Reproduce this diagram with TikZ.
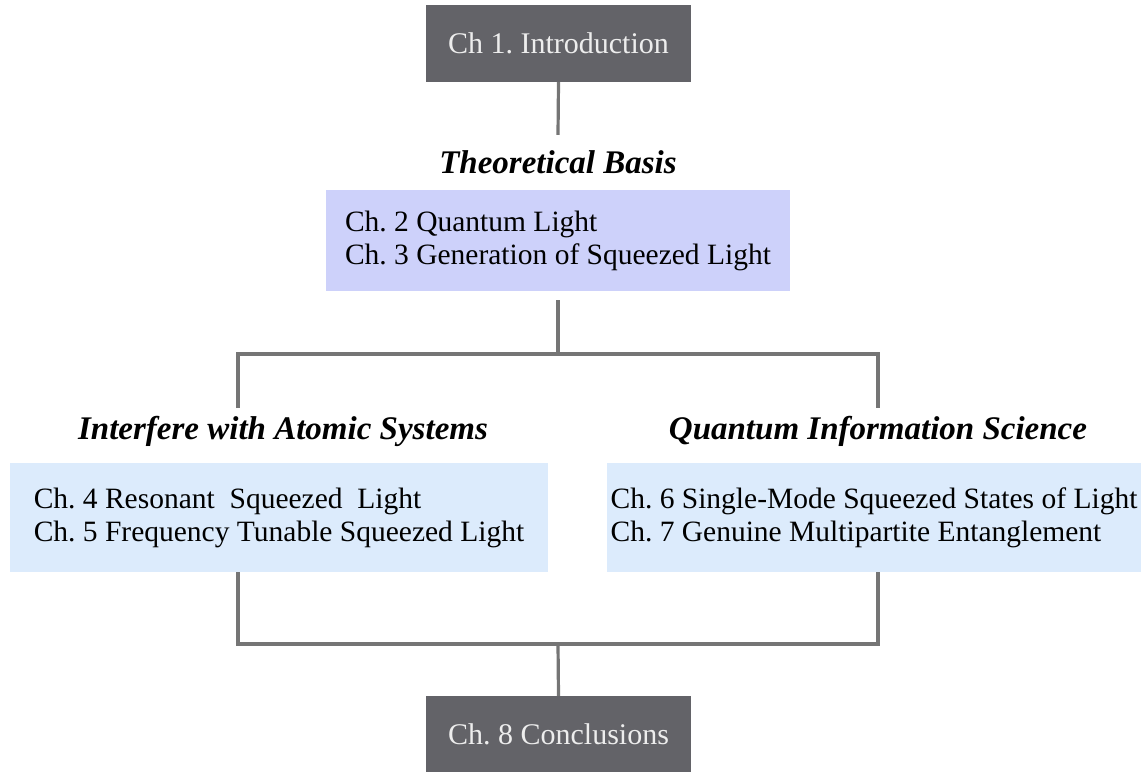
\documentclass[tikz,border=0pt]{standalone}
\usepackage{fontspec}
\setmainfont{Liberation Serif}
\frenchspacing
\definecolor{darkbox}{HTML}{636368}
\definecolor{lavbox}{HTML}{CDD1FA}
\definecolor{bluebox}{HTML}{DCEBFC}
\definecolor{linegray}{HTML}{757575}
\definecolor{lighttext}{HTML}{EDEDED}
\tikzset{
  darknode/.style={fill=darkbox, text=lighttext, minimum width=265pt, minimum height=77pt, inner sep=0pt, font=\fontsize{30}{33}\selectfont},
  chapbox/.style={inner sep=0pt, align=left, font=\fontsize{29.5}{33}\selectfont},
  headnode/.style={inner sep=0pt, font=\fontsize{33}{36}\selectfont\bfseries\itshape},
  conn/.style={draw=linegray, line width=3.2pt}
}
\begin{document}
\begin{tikzpicture}[x=1pt,y=-1pt]
\useasboundingbox (0,0) rectangle (1146,772);
\node[darknode] (intro) at (558.5,43.5) {Ch 1. Introduction};
\node[headnode, minimum height=55pt] (th) at (558,162.5) {Theoretical Basis};
\node[chapbox, fill=lavbox, minimum width=464pt, minimum height=101pt] (b2) at (558,240.5) {Ch. 2 Quantum Light\\Ch. 3 Generation of Squeezed Light};
\node[headnode, minimum height=40pt] (hl) at (283,431) {Interfere with Atomic Systems};
\node[headnode, minimum height=40pt] (hr) at (878,431) {Quantum Information Science};
\node[chapbox, fill=bluebox, minimum width=538pt, minimum height=109pt] (bl) at (279,517.5) {Ch. 4 Resonant~ Squeezed~ Light\\Ch. 5 Frequency Tunable Squeezed Light};
\node[chapbox, fill=bluebox, minimum width=534pt, minimum height=109pt] (br) at (874,517.5) {Ch. 6 Single-Mode Squeezed States of Light\\Ch. 7 Genuine Multipartite Entanglement};
\node[darknode, minimum height=76pt] (concl) at (558.5,734) {Ch. 8 Conclusions};
\coordinate (jt) at (558,354);
\coordinate (jtl) at (238,354);
\coordinate (jtr) at (878,354);
\coordinate (tl) at (238,408);
\coordinate (tr) at (878,408);
\coordinate (jb) at (558,644);
\coordinate (jbl) at (238,644);
\coordinate (jbr) at (878,644);
\draw[conn] (intro.south) -- (th.north);
\draw[conn] (b2.south) ++(0,9) -- (jt);
\draw[conn, line join=miter] (tl) -- (jtl) -- (jtr) -- (tr);
\draw[conn, line join=miter] (bl.south -| jbl) -- (jbl) -- (jbr) -- (br.south -| jbr);
\draw[conn] (jb) -- (concl.north);
\end{tikzpicture}
\end{document}
